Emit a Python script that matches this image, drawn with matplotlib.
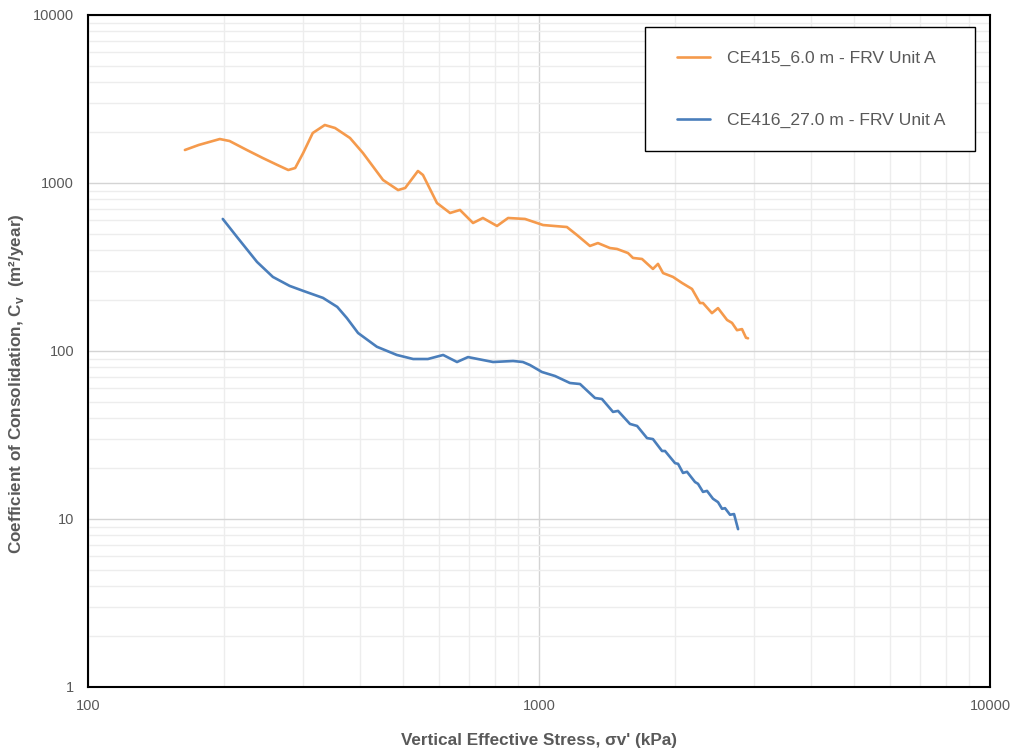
import numpy as np
import matplotlib
matplotlib.use("Agg")
from matplotlib import pyplot as plt
from matplotlib.patches import Rectangle
from matplotlib.ticker import LogLocator, NullFormatter, FuncFormatter

# CE415_6.0 m - FRV Unit A
stress_415 = [164, 176, 196, 206, 225, 244, 263, 278, 288, 300, 315, 335, 353, 381,
              407, 451, 487, 505, 539, 553, 594, 635, 668, 714, 751, 807, 854, 931,
              1021, 1153, 1214, 1297, 1351, 1437, 1489, 1575, 1616, 1692, 1789, 1836,
              1884, 1982, 2076, 2184, 2275, 2310, 2418, 2494, 2612, 2679, 2748, 2819,
              2877, 2907]
cv_415 = [1572, 1684, 1827, 1778, 1572, 1409, 1280, 1195, 1228, 1509, 1984, 2214, 2125, 1853,
          1509, 1042, 908, 934, 1179, 1116, 760, 663, 691, 578, 619, 555, 619, 611,
          562, 547, 490, 422, 439, 410, 405, 383, 358, 353, 308, 330,
          291, 276, 254, 234, 193, 193, 168, 180, 153, 147, 133, 135,
          120, 119]

# CE416_27.0 m - FRV Unit A
stress_416 = [199, 214, 237, 257, 280, 300, 332, 357, 375, 397, 437, 484, 526, 567,
              613, 658, 696, 791, 876, 921, 955, 1015, 1085, 1171, 1233, 1331, 1379,
              1459, 1497, 1591, 1650, 1736, 1789, 1874, 1903, 2003, 2034, 2086, 2129,
              2218, 2252, 2310, 2358, 2431, 2494, 2546, 2585, 2652, 2707, 2763]
cv_416 = [611, 477, 339, 276, 244, 228, 207, 183, 157, 128, 106, 94.7, 89.6, 89.6,
          94.7, 86, 92, 86, 87.2, 86, 82.5, 75, 71, 64.5, 63.6, 52.5, 51.8,
          43.4, 44, 36.8, 35.8, 30.3, 29.9, 25.4, 25.4, 21.5, 21.3, 18.8, 19.1,
          16.6, 16.2, 14.5, 14.7, 13.2, 12.6, 11.5, 11.6, 10.6, 10.7, 8.7]

label_415 = "CE415_6.0 m - FRV Unit A"
label_416 = "CE416_27.0 m - FRV Unit A"

plt.rcParams["font.family"] = ["Liberation Sans", "DejaVu Sans"]
plt.rcParams["mathtext.fontset"] = "custom"
plt.rcParams["mathtext.bf"] = "Liberation Sans:bold"
text_grey = "#595959"

fig = plt.figure(figsize=(10.18, 7.52), dpi=100)
ax = fig.add_axes([88 / 1018, 1 - 687 / 752, 902 / 1018, 672 / 752])

ax.plot(stress_415, cv_415, color="#f59a4c", lw=1.9, label=label_415, zorder=3,
        solid_joinstyle="round", solid_capstyle="round")
ax.plot(stress_416, cv_416, color="#4a7ebb", lw=1.9, label=label_416, zorder=3,
        solid_joinstyle="round", solid_capstyle="round")

ax.set_xscale("log")
ax.set_yscale("log")
ax.set_xlim(100, 10000)
ax.set_ylim(1, 10000)

for axis in (ax.xaxis, ax.yaxis):
    axis.set_major_locator(LogLocator(base=10))
    axis.set_minor_locator(LogLocator(base=10, subs=np.arange(2, 10)))
    axis.set_major_formatter(FuncFormatter(lambda v, p: f"{v:g}"))
    axis.set_minor_formatter(NullFormatter())

ax.grid(True, which="major", color="#d4d4d4", lw=1.0, zorder=0)
ax.grid(True, which="minor", color="#ededed", lw=1.0, zorder=0)
ax.set_axisbelow(True)

ax.tick_params(which="both", length=0)
ax.tick_params(axis="x", pad=9, labelsize=10.5, labelcolor=text_grey)
ax.tick_params(axis="y", pad=10, labelsize=10.5, labelcolor=text_grey)

for s in ax.spines.values():
    s.set_color("black")
    s.set_linewidth(1.5)

ax.set_xlabel("Vertical Effective Stress, σv' (kPa)", fontsize=12.3,
              fontweight="bold", color=text_grey, labelpad=14)
ax.set_ylabel(r"Coefficient of Consolidation, C$_\mathbf{v}$  (m²/year)", fontsize=12.3,
              fontweight="bold", color=text_grey)
ax.yaxis.set_label_coords(-0.069, 0.451)

# legend box drawn separately so the entries can sit inside with Excel-like padding
ax.add_patch(Rectangle((0.6175, 0.7976), 0.366, 0.1845, transform=ax.transAxes,
                       facecolor="white", edgecolor="black", lw=1.0, zorder=4))
leg = ax.legend(loc="upper left", bbox_to_anchor=(0.653, 0.947),
                borderaxespad=0, borderpad=0, fontsize=12.6, frameon=False,
                labelspacing=2.68, handlelength=1.9, handletextpad=0.97)
leg.set_zorder(5)
for t in leg.get_texts():
    t.set_color(text_grey)

fig.savefig("out.png", dpi=100)
plt.close(fig)
